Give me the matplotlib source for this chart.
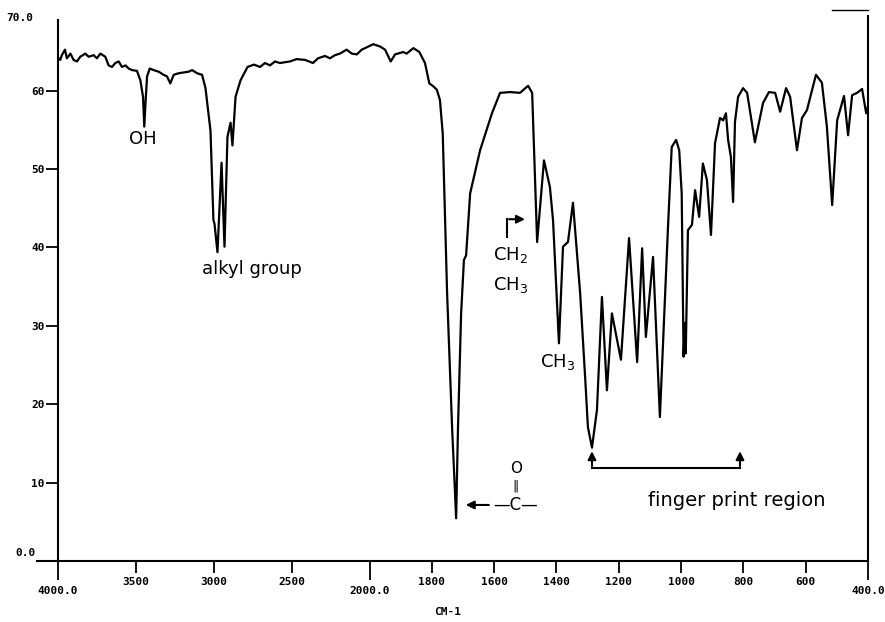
import matplotlib.pyplot as plt
import numpy as np

plt.rcParams.update({"font.family": "DejaVu Sans"})

# IR spectrum (wavenumber in cm-1, %T)
wavenumber = [
    4000, 3985, 3975, 3955, 3943, 3920, 3900, 3878, 3857, 3825,
    3803, 3771, 3750, 3728, 3696, 3675, 3653, 3632, 3610, 3589,
    3567, 3546, 3525, 3493, 3471, 3454, 3446, 3437, 3428, 3411,
    3386, 3354, 3322, 3300, 3279, 3257, 3225, 3193, 3161, 3139,
    3107, 3075, 3053, 3021, 3002, 2995, 2976, 2950, 2931, 2912,
    2892, 2880, 2860, 2828, 2783, 2742, 2703, 2671, 2639, 2607,
    2575, 2511, 2468, 2414, 2363, 2331, 2286, 2254, 2222, 2190,
    2147, 2114, 2082, 2050, 2008, 1988, 1966, 1950, 1932, 1918,
    1892, 1881, 1859, 1840, 1822, 1808, 1797, 1784, 1774, 1765,
    1751, 1735, 1722, 1716, 1706, 1697, 1690, 1677, 1645, 1607,
    1581, 1549, 1517, 1491, 1478, 1469, 1462, 1440, 1421, 1411,
    1392, 1379, 1363, 1347, 1324, 1308, 1299, 1286, 1270, 1254,
    1238, 1222, 1193, 1167, 1141, 1125, 1113, 1090, 1068, 1042,
    1030, 1016, 1006, 998, 992, 988, 985, 978, 965, 955,
    942, 930, 917, 904, 891, 875, 865, 856, 849, 840,
    833, 827, 817, 801, 788, 763, 737, 718, 698, 682,
    663, 650, 628, 612, 596, 567, 548, 532, 515, 499,
    477, 464, 451, 435, 419, 406, 400,
]
transmittance = [
    64.2, 63.9, 64.5, 65.2, 64.1, 64.7, 63.9, 63.7, 64.3, 64.7,
    64.3, 64.5, 64.1, 64.7, 64.3, 63.2, 63.0, 63.5, 63.7, 63.0,
    63.2, 62.8, 62.6, 62.5, 61.3, 59.2, 55.4, 58.8, 61.8, 62.8,
    62.6, 62.4, 62.0, 61.8, 60.9, 62.0, 62.2, 62.3, 62.4, 62.6,
    62.2, 62.0, 60.3, 54.9, 43.5, 43.0, 39.4, 50.8, 40.1, 54.1,
    55.9, 53.0, 59.2, 61.3, 63.0, 63.3, 63.0, 63.5, 63.2, 63.7,
    63.5, 63.7, 64.0, 63.9, 63.5, 64.1, 64.4, 64.1, 64.5, 64.7,
    65.2, 64.7, 64.6, 65.2, 65.6, 65.9, 65.6, 65.2, 63.7, 64.6,
    64.9, 64.7, 65.4, 64.9, 63.5, 60.9, 60.6, 60.1, 58.8, 54.5,
    34.2, 17.1, 5.5, 17.1, 31.6, 38.4, 39.0, 46.9, 52.4, 57.1,
    59.7, 59.8, 59.7, 60.6, 59.7, 49.0, 40.7, 51.1, 47.7, 43.5,
    27.8, 40.1, 40.7, 45.7, 34.2, 23.5, 17.1, 14.5, 19.3, 33.7,
    21.8, 31.6, 25.7, 41.2, 25.4, 39.9, 28.6, 38.8, 18.4, 42.6,
    52.8, 53.7, 52.4, 46.9, 26.1, 30.4, 26.5, 42.2, 42.9, 47.3,
    43.9, 50.7, 48.6, 41.6, 53.3, 56.5, 56.2, 57.1, 53.7, 51.5,
    45.8, 56.0, 59.2, 60.3, 59.7, 53.4, 58.4, 59.8, 59.7, 57.3,
    60.3, 59.2, 52.4, 56.5, 57.5, 62.0, 61.0, 55.4, 45.4, 56.2,
    59.3, 54.3, 59.4, 59.7, 60.2, 57.1, 58.0,
]

long_ticks = [4000, 2000, 400]
long_labels = ["4000.0", "2000.0", "400.0"]
short_ticks = [3500, 3000, 2500, 1800, 1600, 1400, 1200, 1000, 800, 600]
short_labels = ["3500", "3000", "2500", "1800", "1600", "1400", "1200", "1000", "800", "600"]
y_ticks = [10, 20, 30, 40, 50, 60]
y_labels = ["10", "20", "30", "40", "50", "60"]


# half scale above 2000 cm-1, like the instrument chart paper
def fwd(w):
    w = np.asarray(w, dtype=float)
    return np.where(w > 2000, 2000 + (w - 2000) / 2, w)


def inv(g):
    g = np.asarray(g, dtype=float)
    return np.where(g > 2000, 2000 + 2 * (g - 2000), g)


fig = plt.figure(figsize=(8.85, 6.22), dpi=100)
ax = fig.add_axes([0.0655, 0.0973, 0.9153, 0.8834])
ax.set_xscale("function", functions=(fwd, inv))
ax.set_xlim(4000, 400)
ax.set_ylim(0, 70)

ax.plot(wavenumber, transmittance, color="black", lw=1.6, solid_joinstyle="round")

tick_font = dict(family="DejaVu Sans Mono", weight="bold", size=8)

ax.set_xticks(long_ticks)
ax.set_xticklabels(long_labels, **tick_font)
ax.set_xticks(short_ticks, minor=True)
ax.set_xticklabels(short_labels, minor=True, **tick_font)
ax.tick_params(axis="x", which="major", direction="out", length=14, width=1.3, pad=4)
ax.tick_params(axis="x", which="minor", direction="out", length=8.5, width=1.3, pad=3)

ax.set_yticks(y_ticks)
ax.set_yticklabels(y_labels, **tick_font)
ax.tick_params(axis="y", direction="out", length=8.5, width=1.3, pad=1)

# the 0.0 line runs out past the axis, 70.0 sits at the top without a tick
ytrans = ax.get_yaxis_transform()
ax.plot([-0.026, 0], [0, 0], color="black", lw=1.5, transform=ytrans, clip_on=False)
ax.text(-0.027, 0.5, "0.0", transform=ytrans, ha="right", va="bottom", **tick_font)
ax.text(-0.03, 69.2, "70.0", transform=ytrans, ha="right", va="center", **tick_font)

ax.spines["top"].set_visible(False)
for side in ["left", "bottom", "right"]:
    ax.spines[side].set_linewidth(1.5)
ax.spines["left"].set_bounds(0, 69)
ax.spines["right"].set_bounds(0, 69.5)
ax.plot([0.955, 1.0], [70.25, 70.25], color="black", lw=1.0, transform=ytrans, clip_on=False)

fig.text(448 / 885, 1 - 612 / 622, "CM-1", ha="center", va="center", **tick_font)

# hand-written notes
note = dict(color="black", fontsize=13)
ax.text(3454, 53.8, "OH", ha="center", va="center", **note)
ax.text(2755, 37.3, "alkyl group", ha="center", va="center", **note)
ax.text(1604, 39.0, "CH$_2$", ha="left", va="center", **note)
ax.text(1604, 35.2, "CH$_3$", ha="left", va="center", **note)
ax.plot([1559, 1559], [41.4, 43.6], color="black", lw=1.5)
ax.annotate("", xy=(1492, 43.6), xytext=(1561, 43.6),
            arrowprops=dict(arrowstyle="-|>", lw=1.5, color="black", mutation_scale=12))
ax.text(1453, 25.4, "CH$_3$", ha="left", va="center", **note)

ax.text(1530, 11.9, "O", ha="center", va="center", fontsize=11)
ax.text(1530, 9.6, "\u2016", ha="center", va="center", fontsize=9)
ax.text(1530, 7.2, "\u2014C\u2014", ha="center", va="center", fontsize=12)
ax.annotate("", xy=(1700, 7.2), xytext=(1608, 7.2),
            arrowprops=dict(arrowstyle="-|>", lw=1.5, color="black", mutation_scale=12))

ax.plot([1286, 811], [11.9, 11.9], color="black", lw=1.5)
for wx in [1286, 811]:
    ax.annotate("", xy=(wx, 14.4), xytext=(wx, 11.8),
                arrowprops=dict(arrowstyle="-|>", lw=1.5, color="black", mutation_scale=12))
ax.text(820, 7.8, "finger print region", ha="center", va="center", fontsize=14)

fig.savefig("out.png", dpi=100)
